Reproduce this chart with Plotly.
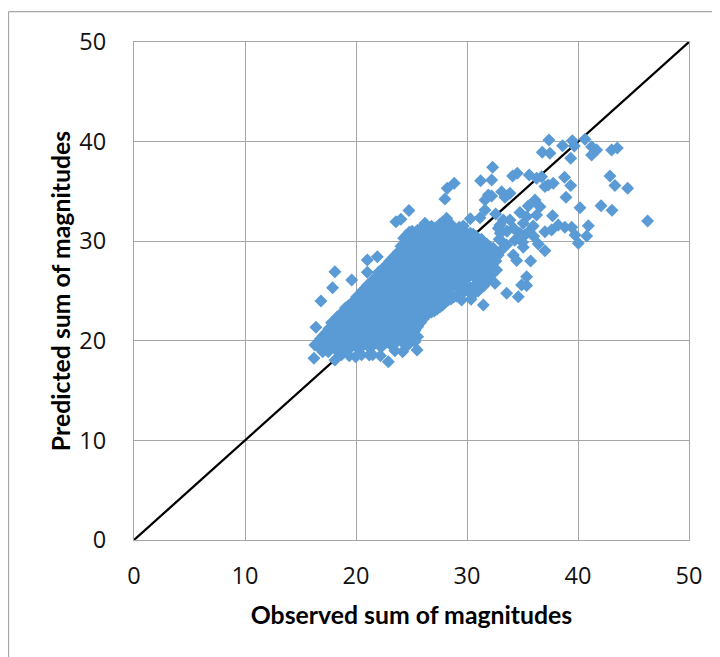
import plotly.graph_objects as go

ref_line_x = [0, 50]
ref_line_y = [0, 50]

ticks = [0, 10, 20, 30, 40, 50]

# Scattered points outside the dense core
outlier_obs = [37.38, 39.49, 38.61, 40.63, 36.78, 37.47, 39.67, 41.23, 41.68, 41.23, 43.03, 43.54, 39.34,
               32.31, 31.23, 32.22, 34.11, 34.53, 35.61, 36.72, 36.27, 38.79, 42.88, 37.32, 37.77, 37.02,
               39.34, 43.33, 44.47, 28.85, 28.22, 28.01, 33.12, 33.87, 33.42, 31.92, 31.62, 32.22, 38.92,
               36.12, 35.52, 36.57, 34.77, 40.18, 42.07, 43.06, 31.62, 32.58, 37.71, 35.37, 36.27, 46.27,
               33.27, 31.17, 30.30, 40.93, 35.97, 32.82, 33.87, 35.07, 38.22, 39.43, 38.82, 37.02, 37.62,
               32.97, 34.77, 35.22, 39.73, 40.78, 40.03, 36.42, 37.02, 35.07, 33.57, 34.17, 34.47, 35.73,
               35.37, 34.92, 35.37, 33.57, 34.62, 31.47, 30.36, 32.52, 32.67, 24.77, 23.60, 24.05, 28.16,
               26.21, 29.67, 32.37, 32.07, 31.77, 30.87, 31.77, 31.02, 29.51,
               18.10, 19.61, 17.89, 16.84, 21.02, 21.02, 21.92, 16.39, 16.30, 16.21, 18.10, 19.97, 21.20, 22.91, 25.50,
               17.00, 17.50, 18.70, 19.40, 20.50, 21.50, 22.20, 23.50, 24.20, 24.60,
               33.00, 33.60, 34.20, 35.60, 36.00, 33.20, 32.90, 34.30, 35.00,
               31.50, 31.90, 32.20, 32.40, 31.00, 30.50, 32.60, 32.80, 33.00]
outlier_pred = [40.16, 40.09, 39.59, 40.23, 38.92, 38.82, 39.56, 39.49, 39.16, 38.66, 39.16, 39.36, 38.32,
                37.42, 36.08, 36.15, 36.55, 36.82, 36.65, 36.48, 36.31, 36.41, 36.55, 35.64, 35.81, 35.48,
                35.58, 35.58, 35.31, 35.81, 35.31, 34.24, 34.97, 34.81, 34.41, 34.64, 34.14, 34.54, 34.41,
                34.14, 33.54, 33.47, 32.87, 33.37, 33.57, 33.10, 33.13, 32.73, 32.56, 32.46, 32.63, 32.03,
                32.13, 32.36, 32.26, 31.56, 31.53, 31.29, 32.13, 31.80, 31.63, 31.39, 31.39, 30.96, 31.13,
                31.63, 30.79, 30.62, 30.62, 30.52, 29.79, 29.72, 29.05, 29.39, 29.62, 28.62, 28.05, 28.01,
                26.44, 25.60, 25.54, 24.77, 24.43, 23.60, 24.17, 25.77, 27.11, 33.07, 31.96, 32.20, 32.30,
                31.80, 31.53, 29.29, 28.45, 27.44, 27.78, 26.10, 25.10, 24.10,
                26.94, 26.10, 25.33, 24.00, 28.11, 26.87, 28.44, 21.35, 19.58, 18.24, 18.07, 18.40, 18.57, 17.90, 19.08,
                18.90, 18.90, 18.60, 18.50, 18.60, 18.60, 18.50, 19.00, 18.90, 19.50,
                30.80, 31.00, 31.30, 31.00, 30.50, 29.90, 30.20, 30.10, 29.90,
                25.50, 26.00, 26.60, 27.20, 25.00, 24.60, 28.00, 28.60, 29.00]

# Dense core: observed value of each column and the predicted values seen along it
core_obs = [16.8, 17.3, 17.8, 18.3, 18.8, 19.3, 19.8, 20.3, 20.8, 21.3, 21.8, 22.3, 22.8, 23.3, 23.8, 24.3,
            24.8, 25.3, 25.8, 26.3, 26.8, 27.3, 27.8, 28.3, 28.8, 29.3, 29.8, 30.3, 30.8, 31.3, 31.8, 32.3]
core_pred = [
    [19.2, 20.2],
    [19.6, 20.8],
    [19.5, 20.6, 21.8],
    [19.0, 20.1, 21.2, 22.4],
    [19.5, 20.6, 21.7, 22.9],
    [19.1, 20.2, 21.3, 22.4, 23.5],
    [19.6, 20.7, 21.8, 23.0, 24.0],
    [19.2, 20.3, 21.4, 22.5, 23.6, 24.6],
    [19.7, 20.8, 21.9, 23.0, 24.1, 25.2],
    [19.3, 20.4, 21.5, 22.6, 23.7, 24.8, 25.8],
    [19.8, 20.9, 22.0, 23.1, 24.2, 25.3, 26.4],
    [19.4, 20.5, 21.6, 22.7, 23.8, 24.9, 26.0, 27.0],
    [19.9, 21.0, 22.1, 23.2, 24.3, 25.4, 26.5, 27.6],
    [19.5, 20.6, 21.7, 22.8, 23.9, 25.0, 26.1, 27.2, 28.3],
    [20.1, 21.2, 22.3, 23.4, 24.5, 25.6, 26.7, 27.8, 28.9],
    [19.9, 20.8, 21.9, 23.0, 24.1, 25.2, 26.3, 27.4, 28.5, 29.6, 30.3],
    [20.3, 21.4, 22.5, 23.6, 24.7, 25.8, 26.9, 28.0, 29.1, 30.2, 30.9],
    [19.9, 21.0, 22.1, 23.2, 24.3, 25.4, 26.5, 27.6, 28.7, 29.8, 30.8],
    [21.8, 22.9, 24.0, 25.1, 26.2, 27.3, 28.4, 29.5, 30.6, 31.2],
    [22.5, 23.6, 24.7, 25.8, 26.9, 28.0, 29.1, 30.2, 31.2],
    [22.9, 23.2, 24.3, 25.4, 26.5, 27.6, 28.7, 29.8, 30.9, 31.5],
    [23.2, 23.9, 25.0, 26.1, 27.2, 28.3, 29.4, 30.5, 31.4],
    [23.6, 24.6, 25.7, 26.8, 27.9, 29.0, 30.1, 31.2, 31.9],
    [24.1, 25.2, 26.3, 27.4, 28.5, 29.6, 30.7, 31.8],
    [24.4, 25.6, 26.7, 27.8, 28.9, 30.0, 31.1],
    [24.6, 25.3, 26.4, 27.5, 28.6, 29.7, 30.8, 31.4],
    [25.0, 26.1, 27.2, 28.3, 29.4, 30.5],
    [25.3, 26.6, 27.7, 28.8, 29.9, 30.8],
    [25.6, 26.4, 27.5, 28.6, 29.7, 30.5],
    [26.2, 27.1, 28.2, 29.3, 30.2],
    [27.0, 27.9, 28.9, 29.7],
    [28.0, 29.1],
]

# Second pass over the core, filling between the columns above
fill_obs = [17.05, 17.55, 18.05, 18.55, 19.05, 19.55, 20.05, 20.55, 21.05, 21.55, 22.05, 22.55, 23.05, 23.55,
            24.05, 24.55, 25.05, 25.55, 26.05, 26.55, 27.05, 27.55, 28.05, 28.55, 29.05, 29.55, 30.05, 30.55,
            31.05, 31.55, 32.05]
fill_pred = [
    [19.7, 20.5],
    [19.4, 20.3, 21.2],
    [19.3, 20.4, 21.5, 22.0],
    [19.2, 20.3, 21.4, 22.5],
    [19.3, 20.4, 21.5, 22.6, 23.3],
    [19.4, 20.5, 21.6, 22.7, 23.7],
    [19.4, 20.5, 21.6, 22.7, 23.8, 24.4],
    [19.5, 20.6, 21.7, 22.8, 23.9, 25.0],
    [19.5, 20.6, 21.7, 22.8, 23.9, 25.0, 25.6],
    [19.6, 20.7, 21.8, 22.9, 24.0, 25.1, 26.1],
    [19.6, 20.7, 21.8, 22.9, 24.0, 25.1, 26.2, 26.9],
    [19.7, 20.8, 21.9, 23.0, 24.1, 25.2, 26.3, 27.4],
    [19.7, 20.8, 21.9, 23.0, 24.1, 25.2, 26.3, 27.4, 28.0],
    [19.8, 20.9, 22.0, 23.1, 24.2, 25.3, 26.4, 27.5, 28.6],
    [20.0, 21.0, 22.1, 23.2, 24.3, 25.4, 26.5, 27.6, 28.7, 29.5],
    [20.1, 21.1, 22.2, 23.3, 24.4, 25.5, 26.6, 27.7, 28.8, 29.9, 30.6],
    [20.1, 21.2, 22.3, 23.4, 24.5, 25.6, 26.7, 27.8, 28.9, 30.0, 31.0],
    [20.4, 21.4, 22.5, 23.6, 24.7, 25.8, 26.9, 28.0, 29.1, 30.2, 31.1],
    [22.2, 23.3, 24.4, 25.5, 26.6, 27.7, 28.8, 29.9, 31.0],
    [22.9, 24.0, 25.1, 26.2, 27.3, 28.4, 29.5, 30.6, 31.4],
    [23.0, 23.6, 24.7, 25.8, 26.9, 28.0, 29.1, 30.2, 31.3],
    [23.4, 24.3, 25.4, 26.5, 27.6, 28.7, 29.8, 30.9, 31.7],
    [23.9, 24.9, 26.0, 27.1, 28.2, 29.3, 30.4, 31.5],
    [24.2, 25.4, 26.5, 27.6, 28.7, 29.8, 30.9, 31.7],
    [24.5, 25.5, 26.6, 27.7, 28.8, 29.9, 31.0],
    [24.8, 25.7, 26.8, 27.9, 29.0, 30.1, 31.2],
    [25.1, 26.3, 27.4, 28.5, 29.6, 30.7],
    [25.4, 26.5, 27.6, 28.7, 29.8, 30.7],
    [25.9, 26.8, 27.9, 29.0, 30.0],
    [26.6, 27.5, 28.6, 29.5],
    [27.5, 28.5, 29.4],
]

observed = list(outlier_obs)
predicted = list(outlier_pred)
for cols, rows in ((core_obs, core_pred), (fill_obs, fill_pred)):
    for ox, ys in zip(cols, rows):
        for py in ys:
            observed.append(ox)
            predicted.append(py)

GRID = "#a6a6a6"
FONT = "Lato, Carlito, Calibri, sans-serif"
TICK_FONT = dict(family="Open Sans, sans-serif", size=23.5, color="#111111")
TITLE_FONT = dict(family=FONT, size=24.8, color="#000000")

fig = go.Figure()
fig.add_trace(go.Scatter(x=ref_line_x, y=ref_line_y, mode="lines",
                         line=dict(color="#000000", width=2.25), hoverinfo="skip"))
fig.add_trace(go.Scatter(x=observed, y=predicted, mode="markers",
                         marker=dict(symbol="diamond", size=10, color="#5b9bd5", line=dict(width=0))))

axis = dict(range=[0, 50], tickvals=ticks, showgrid=True, gridcolor=GRID, gridwidth=1.25,
            showline=True, linecolor=GRID, linewidth=1.25, mirror=True, zeroline=False,
            ticks="outside", tickcolor="rgba(0,0,0,0)", tickfont=TICK_FONT)

fig.update_layout(
    width=712, height=649, showlegend=False, paper_bgcolor="white", plot_bgcolor="white",
    margin=dict(l=126, r=31, t=34, b=117), font=dict(family=FONT),
    xaxis=dict(title=dict(text="<b>Observed sum of magnitudes</b>", font=TITLE_FONT, standoff=16), ticklen=15, **axis),
    yaxis=dict(title=dict(text="<b>Predicted sum of magnitudes</b>", font=TITLE_FONT, standoff=1), ticklen=22, **axis),
    shapes=[
        dict(type="line", xref="paper", yref="paper", x0=-0.2261, x1=1.056, y0=1.0608, y1=1.0608,
             line=dict(color=GRID, width=1.25), layer="below"),
        dict(type="line", xref="paper", yref="paper", x0=-0.2261, x1=-0.2261, y0=-0.235, y1=1.0608,
             line=dict(color=GRID, width=1.25), layer="below"),
    ],
)
fig.write_html("out.html")
